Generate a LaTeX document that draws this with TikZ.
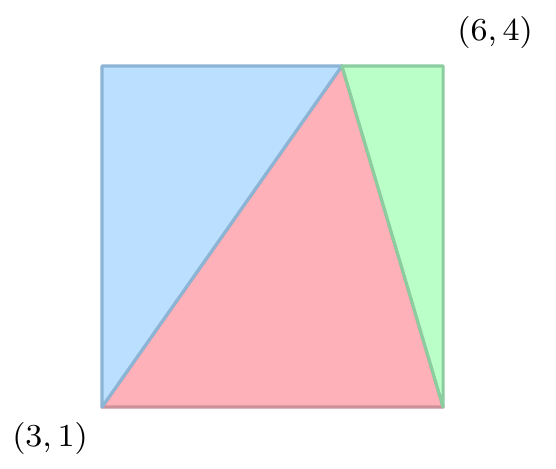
\documentclass[tikz,border=0pt]{standalone}
\definecolor{bfill}{RGB}{187,224,255}
\definecolor{bdraw}{RGB}{140,180,212}
\definecolor{rfill}{RGB}{255,177,186}
\definecolor{rdraw}{RGB}{205,145,155}
\definecolor{gfill}{RGB}{187,255,200}
\definecolor{gdraw}{RGB}{140,205,160}
\begin{document}
\begin{tikzpicture}[x=1cm,y=1cm,
  region/.style={line width=0.8pt, line join=round},
  lbl/.style={inner sep=0pt, font=\fontsize{8.4}{10}\selectfont}]
\useasboundingbox (2.103,0.463) rectangle (6.993,4.580);
\coordinate (A) at (3,1);
\coordinate (B) at (6,1);
\coordinate (C) at (6,4);
\coordinate (D) at (3,4);
\coordinate (P) at (5.11,4);
\filldraw[region, fill=rfill, draw=rdraw] (A) -- (B) -- (P) -- cycle;
\filldraw[region, fill=bfill, draw=bdraw] (A) -- (P) -- (D) -- cycle;
\filldraw[region, fill=gfill, draw=gdraw] (P) -- (C) -- (B) -- cycle;
\node[lbl] (la) at (2.543,0.727) {$(3,1)$};
\node[lbl] (lc) at (6.457,4.29) {$(6,4)$};
\end{tikzpicture}
\end{document}
